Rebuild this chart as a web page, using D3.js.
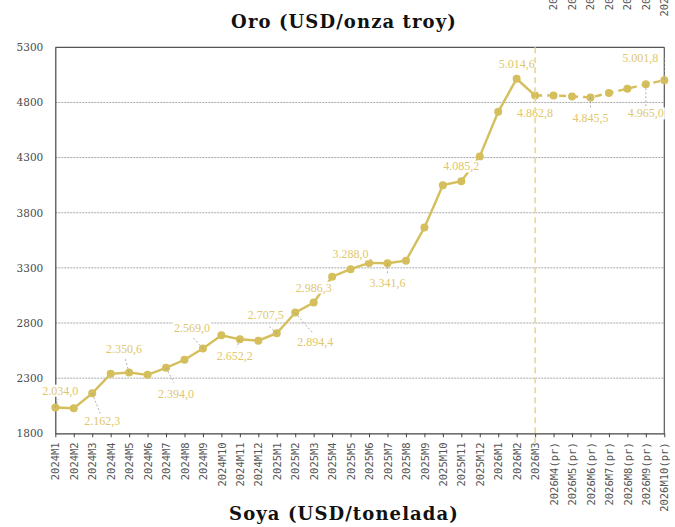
<!DOCTYPE html>
<html>
<head>
<meta charset="utf-8">
<script src="https://cdn.jsdelivr.net/npm/d3@7"></script>
<style>
  body { margin: 0; background: #fff; }
  svg { display: block; }
</style>
</head>
<body>
<div id="chart"></div>
<script>
// oro mensual, observado + proyeccion (pr)

const months = ["2024M1","2024M2","2024M3","2024M4","2024M5","2024M6","2024M7","2024M8","2024M9","2024M10","2024M11","2024M12",
  "2025M1","2025M2","2025M3","2025M4","2025M5","2025M6","2025M7","2025M8","2025M9","2025M10","2025M11","2025M12",
  "2026M1","2026M2","2026M3"];
const projMonths = ["2026M4(pr)","2026M5(pr)","2026M6(pr)","2026M7(pr)","2026M8(pr)","2026M9(pr)","2026M10(pr)"];

const values = [2034.0, 2027, 2162.3, 2339, 2350.6, 2330, 2394.0, 2467, 2569.0, 2688, 2652.2, 2640,
  2707.5, 2894.4, 2986.3, 3220, 3288.0, 3345, 3341.6, 3365, 3665, 4050, 4085.2, 4310,
  4715, 5014.6, 4862.8];
const projValues = [4864, 4855, 4845.5, 4885, 4925, 4965.0, 5001.8];

const yTicks = [1800, 2300, 2800, 3300, 3800, 4300, 4800, 5300];

// which points get a value label
const labelled = ["2024M1","2024M3","2024M5","2024M7","2024M9","2024M11","2025M1","2025M2","2025M3",
  "2025M5","2025M7","2025M11","2026M2","2026M3","2026M6(pr)","2026M9(pr)","2026M10(pr)"];

// label placement (text offset dx,dy and leader end lx,ly) -- layout only
const labelPos = {
  "2024M1": [5,-17, 3,-8],  "2024M3": [10,27, 8,20],  "2024M5": [-5,-24, -4,-14],
  "2024M7": [10,26, 8,15],  "2024M9": [-11,-21, -10,-11], "2024M11": [-5,16, -3,8],
  "2025M1": [-11,-18, -9,-8], "2025M2": [20,29, 18,21], "2025M3": [0,-15, 0,0],
  "2025M5": [0,-15, 0,0],   "2025M7": [0,20, 0,10],   "2025M11": [0,-15, 0,0],
  "2026M2": [0,-15, 0,0],   "2026M3": [0,17, 0,0],    "2026M6(pr)": [0,20, 0,12],
  "2026M9(pr)": [0,29, 0,22], "2026M10(pr)": [-24,-22, 0,-22]
};

const W = 675, H = 527;
const gold = "#d4bf5c", goldTxt = "#dfc76c", goldLight = "#e8d896";

const allMonths = months.concat(projMonths);
const data = allMonths.map((m, i) => ({ m: m, v: i < values.length ? values[i] : projValues[i - values.length] }));

const es = d3.formatLocale({ decimal: ",", thousands: ".", grouping: [3], currency: ["", ""] });
const fmt = es.format(",.1f");

const svg = d3.select("#chart").append("svg").attr("width", W).attr("height", H);

const x = d3.scalePoint().domain(allMonths).range([55.3, 664.3]);
const y = d3.scaleLinear().domain([1800, 5300]).range([433.3, 47.3]);

// grid
svg.append("g").selectAll("line")
  .data(yTicks.filter(d => d > 1800 && d < 5300))
  .enter().append("line")
  .attr("x1", x.range()[0]).attr("x2", x.range()[1])
  .attr("y1", d => y(d)).attr("y2", d => y(d))
  .attr("stroke", "#a8a8a8").attr("stroke-width", 1).attr("stroke-dasharray", "2,1");

// frame top/right
svg.append("line").attr("x1", x.range()[0]).attr("x2", x.range()[1]).attr("y1", y(5300)).attr("y2", y(5300))
  .attr("stroke", "#555").attr("stroke-width", 1.2);
svg.append("line").attr("x1", x.range()[1]).attr("x2", x.range()[1]).attr("y1", y(5300)).attr("y2", y(1800))
  .attr("stroke", "#555").attr("stroke-width", 1.2);

// y axis
const yAx = svg.append("g").attr("transform", `translate(${x.range()[0]},0)`)
  .call(d3.axisLeft(y).tickValues(yTicks).tickSize(0).tickPadding(12).tickFormat(d3.format("d")));
yAx.select(".domain").attr("stroke", "#444").attr("stroke-width", 1.2);
yAx.selectAll("text").attr("font-family", "DejaVu Serif").attr("font-size", "10.5px").attr("fill", "#4a4a4a");

// x axis
const xAx = svg.append("g").attr("transform", `translate(0,${y(1800)})`)
  .call(d3.axisBottom(x).tickSize(4).tickSizeOuter(0));
xAx.select(".domain").attr("stroke", "#444").attr("stroke-width", 1.2);
xAx.selectAll(".tick line").attr("stroke", "#444");
xAx.selectAll("text")
  .attr("transform", "rotate(-90)")
  .attr("text-anchor", "end")
  .attr("x", -9).attr("y", 0).attr("dy", "0.35em")
  .attr("font-family", "DejaVu Sans Mono").attr("font-size", "10.5px").attr("fill", "#555");

// stray copy of projection labels at the top (clipped by the page)
svg.append("g").selectAll("text")
  .data(projMonths)
  .enter().append("text")
  .attr("transform", d => `translate(${x(d)},0) rotate(-90)`)
  .attr("text-anchor", "end")
  .attr("x", 53).attr("dy", "0.35em")
  .attr("font-family", "DejaVu Sans Mono").attr("font-size", "10.5px").attr("fill", "#555")
  .text(d => d);

// lines
const line = d3.line().x(d => x(d.m)).y(d => y(d.v));
svg.append("path").datum(data.slice(0, values.length))
  .attr("d", line).attr("fill", "none").attr("stroke", gold).attr("stroke-width", 2.4);
svg.append("path").datum(data.slice(values.length - 1))
  .attr("d", line).attr("fill", "none").attr("stroke", gold).attr("stroke-width", 2.4)
  .attr("stroke-dasharray", "7,5");

svg.append("g").selectAll("circle")
  .data(data)
  .enter().append("circle")
  .attr("cx", d => x(d.m)).attr("cy", d => y(d.v)).attr("r", 4)
  .attr("fill", gold);

// value labels
const lab = svg.append("g").selectAll("g")
  .data(data.filter(d => labelled.includes(d.m)))
  .enter().append("g")
  .attr("transform", d => `translate(${x(d.m)},${y(d.v)})`);

lab.append("line")
  .attr("x1", 0).attr("y1", 0)
  .attr("x2", d => labelPos[d.m][2]).attr("y2", d => labelPos[d.m][3])
  .attr("stroke", "#9a9a9a").attr("stroke-width", 0.8).attr("stroke-dasharray", "2,2")
  .attr("visibility", d => labelPos[d.m][2] || labelPos[d.m][3] ? "visible" : "hidden");

lab.each(function (d) {
  const g = d3.select(this);
  const t = g.append("text")
    .attr("x", labelPos[d.m][0]).attr("y", labelPos[d.m][1])
    .attr("dy", "0.35em").attr("text-anchor", "middle")
    .attr("font-family", "Liberation Serif").attr("font-size", "12px")
    .attr("fill", goldTxt)
    .text(fmt(d.v));
  const bb = t.node().getBBox();
  g.insert("rect", "text")
    .attr("x", bb.x - 1).attr("y", bb.y + 1).attr("width", bb.width + 2).attr("height", bb.height - 2)
    .attr("fill", "#fff");
});

// divider obs / proyeccion
svg.append("line")
  .attr("x1", x("2026M3")).attr("x2", x("2026M3"))
  .attr("y1", y(5300)).attr("y2", y(1800) + 14)
  .attr("stroke", goldLight).attr("stroke-width", 1.6).attr("stroke-dasharray", "6,4");

// titles
svg.append("text").attr("x", 344).attr("y", 28).attr("text-anchor", "middle")
  .attr("font-family", "DejaVu Serif").attr("font-weight", "bold").attr("font-size", "18px")
  .attr("letter-spacing", "1.1px")
  .attr("fill", "#111").text("Oro (USD/onza troy)");
svg.append("text").attr("x", 344).attr("y", 520).attr("text-anchor", "middle")
  .attr("font-family", "DejaVu Serif").attr("font-weight", "bold").attr("font-size", "18px")
  .attr("letter-spacing", "1.1px")
  .attr("fill", "#111").text("Soya (USD/tonelada)");
</script>
</body>
</html>
